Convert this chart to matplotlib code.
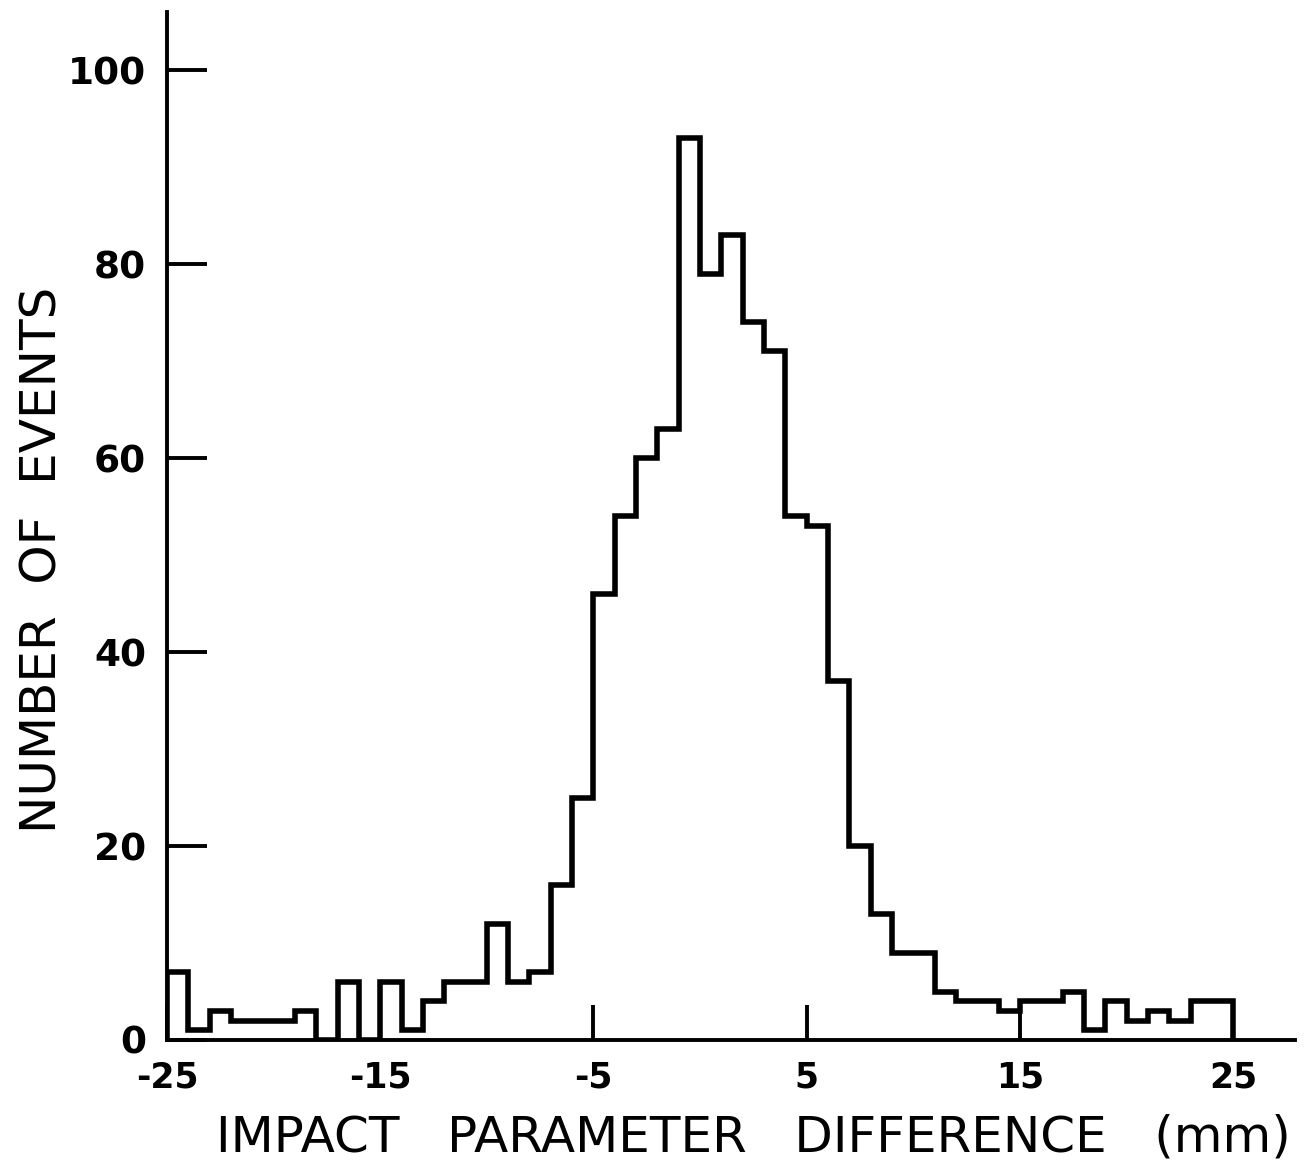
import numpy as np
import matplotlib
matplotlib.use("Agg")
import matplotlib.pyplot as plt

# Data: 1 mm bins from -25 to 25
bin_edges = list(range(-25, 26))
counts = [7, 1, 3, 2, 2, 2, 3, 0, 6, 0,
          6, 1, 4, 6, 6, 12, 6, 7, 16, 25,
          46, 54, 60, 63, 93, 79, 83, 74, 71, 54,
          53, 37, 20, 13, 9, 9, 5, 4, 4, 3,
          4, 4, 5, 1, 4, 2, 3, 2, 4, 4]
x_ticks = [-25, -15, -5, 5, 15, 25]
x_tick_labels = ["-25", "-15", "-5", "5", "15", "25"]
y_ticks = [0, 20, 40, 60, 80, 100]
y_tick_labels = ["0", "20", "40", "60", "80", "100"]

W, H = 1308, 1164
fig = plt.figure(figsize=(W / 100, H / 100), dpi=100)
x0, x1 = 167, 1295
y0, ytop = 1040, 12
ax = fig.add_axes([x0 / W, 1 - y0 / H, (x1 - x0) / W, (y0 - ytop) / H])

ax.stairs(counts, bin_edges, color="black", linewidth=4.0, baseline=0)

ax.set_xlim(-25, 27.9)
ax.set_ylim(0, 106)

for s in ["top", "right"]:
    ax.spines[s].set_visible(False)
for s in ["left", "bottom"]:
    ax.spines[s].set_linewidth(2.8)
    ax.spines[s].set_color("black")

ax.set_xticks(x_ticks)
ax.set_xticklabels(x_tick_labels)
ax.set_yticks(y_ticks)
ax.set_yticklabels(y_tick_labels)
ax.tick_params(axis="x", direction="in", length=25, width=2.8, pad=15,
               labelsize=25)
ax.tick_params(axis="y", direction="in", length=29, width=2.8, pad=15,
               labelsize=27)
for lab in ax.get_xticklabels() + ax.get_yticklabels():
    lab.set_fontweight("bold")
    lab.set_family("DejaVu Sans")

fig.text(43 / W, 1 - 560 / H, "NUMBER  OF  EVENTS", rotation=90,
         ha="center", va="center", fontsize=36, family="DejaVu Sans")
fig.text(753 / W, 1 - 1138 / H, "IMPACT   PARAMETER   DIFFERENCE   (mm)",
         ha="center", va="center", fontsize=36, family="DejaVu Sans")

fig.savefig("out.png", dpi=100)
